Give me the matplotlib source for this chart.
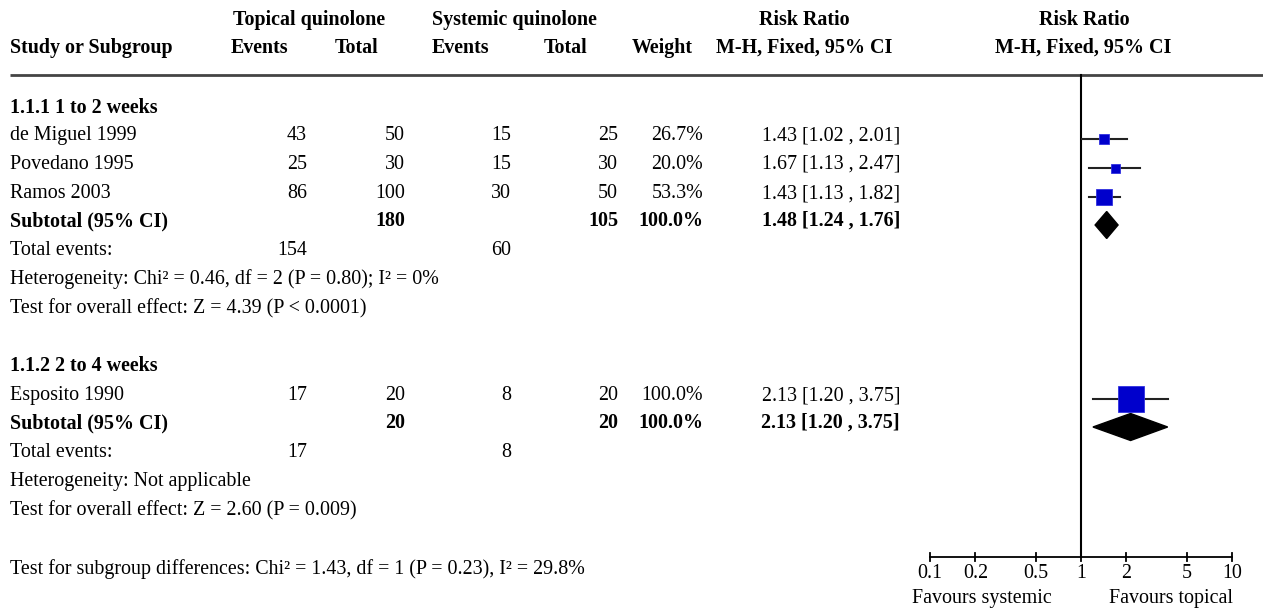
import numpy as np
import matplotlib.pyplot as plt
from matplotlib.patches import Polygon

# dados
studies = ["de Miguel 1999", "Povedano 1995", "Ramos 2003", "Esposito 1990"]
study_group = [0, 0, 0, 1]
top_events = [43, 25, 86, 17]
top_total = [50, 30, 100, 20]
sys_events = [15, 15, 30, 8]
sys_total = [25, 30, 50, 20]
weights = [26.7, 20.0, 53.3, 100.0]
rr = [1.43, 1.67, 1.43, 2.13]
rr_lo = [1.02, 1.13, 1.13, 1.20]
rr_hi = [2.01, 2.47, 1.82, 3.75]

groups = ["1.1.1 1 to 2 weeks", "1.1.2 2 to 4 weeks"]
sub_top_total = [180, 20]
sub_sys_total = [105, 20]
sub_weight = [100.0, 100.0]
sub_rr = [1.48, 2.13]
sub_lo = [1.24, 1.20]
sub_hi = [1.76, 3.75]
tot_top_events = [154, 17]
tot_sys_events = [60, 8]
heterogeneity = ["Heterogeneity: Chi² = 0.46, df = 2 (P = 0.80); I² = 0%",
                 "Heterogeneity: Not applicable"]
overall = ["Test for overall effect: Z = 4.39 (P < 0.0001)",
           "Test for overall effect: Z = 2.60 (P = 0.009)"]
subgroup_test = "Test for subgroup differences: Chi² = 1.43, df = 1 (P = 0.23), I² = 29.8%"

ticks = [0.1, 0.2, 0.5, 1, 2, 5, 10]
tick_labels = ["0.1", "0.2", "0.5", "1", "2", "5", "10"]

# layout (pixels)
W, H = 1263, 610
group_y = [107, 365]
study_y = [134, 163, 192, 394]
sub_y = [220, 422]
fs = 14.4
FONT = "Liberation Serif"
off = 6  # baseline offset

fig = plt.figure(figsize=(W / 100, H / 100), dpi=100)
ax = fig.add_axes([0, 0, 1, 1])
ax.set_xlim(0, W)
ax.set_ylim(H, 0)
ax.axis("off")


def txt(x, y, s, ha="left", bold=False):
    ax.text(x, y + off, s, ha=ha, va="baseline", fontsize=fs, family=FONT,
            fontweight="bold" if bold else "normal")


# cabeçalho
txt(309, 19, "Topical quinolone", "center", True)
txt(514, 19, "Systemic quinolone", "center", True)
txt(804, 19, "Risk Ratio", "center", True)
txt(1084, 19, "Risk Ratio", "center", True)
txt(10, 47, "Study or Subgroup", "left", True)
txt(259, 47, "Events", "center", True)
txt(357, 47, "Total", "center", True)
txt(460, 47, "Events", "center", True)
txt(566, 47, "Total", "center", True)
txt(662, 47, "Weight", "center", True)
txt(804, 47, "M-H, Fixed, 95% CI", "center", True)
txt(1083, 47, "M-H, Fixed, 95% CI", "center", True)
ax.plot([10, W], [75, 75], color="#444444", lw=2, solid_capstyle="butt")

# linhas dos estudos
for i, s in enumerate(studies):
    y = study_y[i]
    txt(10, y, s)
    txt(307, y, str(top_events[i]), "right")
    txt(405, y, str(top_total[i]), "right")
    txt(511, y, str(sys_events[i]), "right")
    txt(618, y, str(sys_total[i]), "right")
    txt(703, y, f"{weights[i]:.1f}%", "right")
    txt(900, y, f"{rr[i]:.2f} [{rr_lo[i]:.2f} , {rr_hi[i]:.2f}]", "right")

for g in range(2):
    txt(10, group_y[g], groups[g], bold=True)
    y = sub_y[g]
    txt(10, y, "Subtotal (95% CI)", bold=True)
    txt(405, y, str(sub_top_total[g]), "right", True)
    txt(618, y, str(sub_sys_total[g]), "right", True)
    txt(703, y, f"{sub_weight[g]:.1f}%", "right", True)
    txt(900, y, f"{sub_rr[g]:.2f} [{sub_lo[g]:.2f} , {sub_hi[g]:.2f}]", "right", True)
    txt(10, y + 29, "Total events:")
    txt(307, y + 29, str(tot_top_events[g]), "right")
    txt(511, y + 29, str(tot_sys_events[g]), "right")
    txt(10, y + 58, heterogeneity[g])
    txt(10, y + 87, overall[g])

txt(10, 568, subgroup_test)

# forest plot
fa = fig.add_axes([930 / W, 0, 302 / W, 1])
fa.set_xscale("log")
fa.set_xlim(0.1, 10)
fa.set_ylim(H, 0)
fa.axis("off")

fa.plot([1, 1], [75, 557], color="black", lw=1.5, clip_on=False)

for i in range(len(studies)):
    y = study_y[i] + 5
    fa.plot([rr_lo[i], rr_hi[i]], [y, y], color="#222222", lw=1.5, clip_on=False)
    side = 4.5 + 0.225 * weights[i]
    fa.plot(rr[i], y, marker="s", ms=side * 0.72, color="#0000cc",
            mec="#3030e0", mew=0.6, clip_on=False)

for g in range(2):
    y = sub_y[g] + 5
    hh = 13.5
    d = Polygon([[sub_lo[g], y], [sub_rr[g], y - hh], [sub_hi[g], y], [sub_rr[g], y + hh]],
                closed=True, color="black", clip_on=False)
    fa.add_patch(d)

# eixo
fa.plot([0.1, 10], [557, 557], color="black", lw=1.3, clip_on=False)
for t, lab in zip(ticks, tick_labels):
    fa.plot([t, t], [553, 561], color="black", lw=1.3, clip_on=False)
    fa.text(t, 572 + off, lab, ha="center", va="baseline", fontsize=fs, family=FONT)
fa.text(0.172, 597 + off, "Favours systemic", transform=fa.get_yaxis_transform(),
        ha="center", va="baseline", fontsize=fs, family=FONT)
fa.text(0.798, 597 + off, "Favours topical", transform=fa.get_yaxis_transform(),
        ha="center", va="baseline", fontsize=fs, family=FONT)

fig.savefig("out.png", dpi=100)
